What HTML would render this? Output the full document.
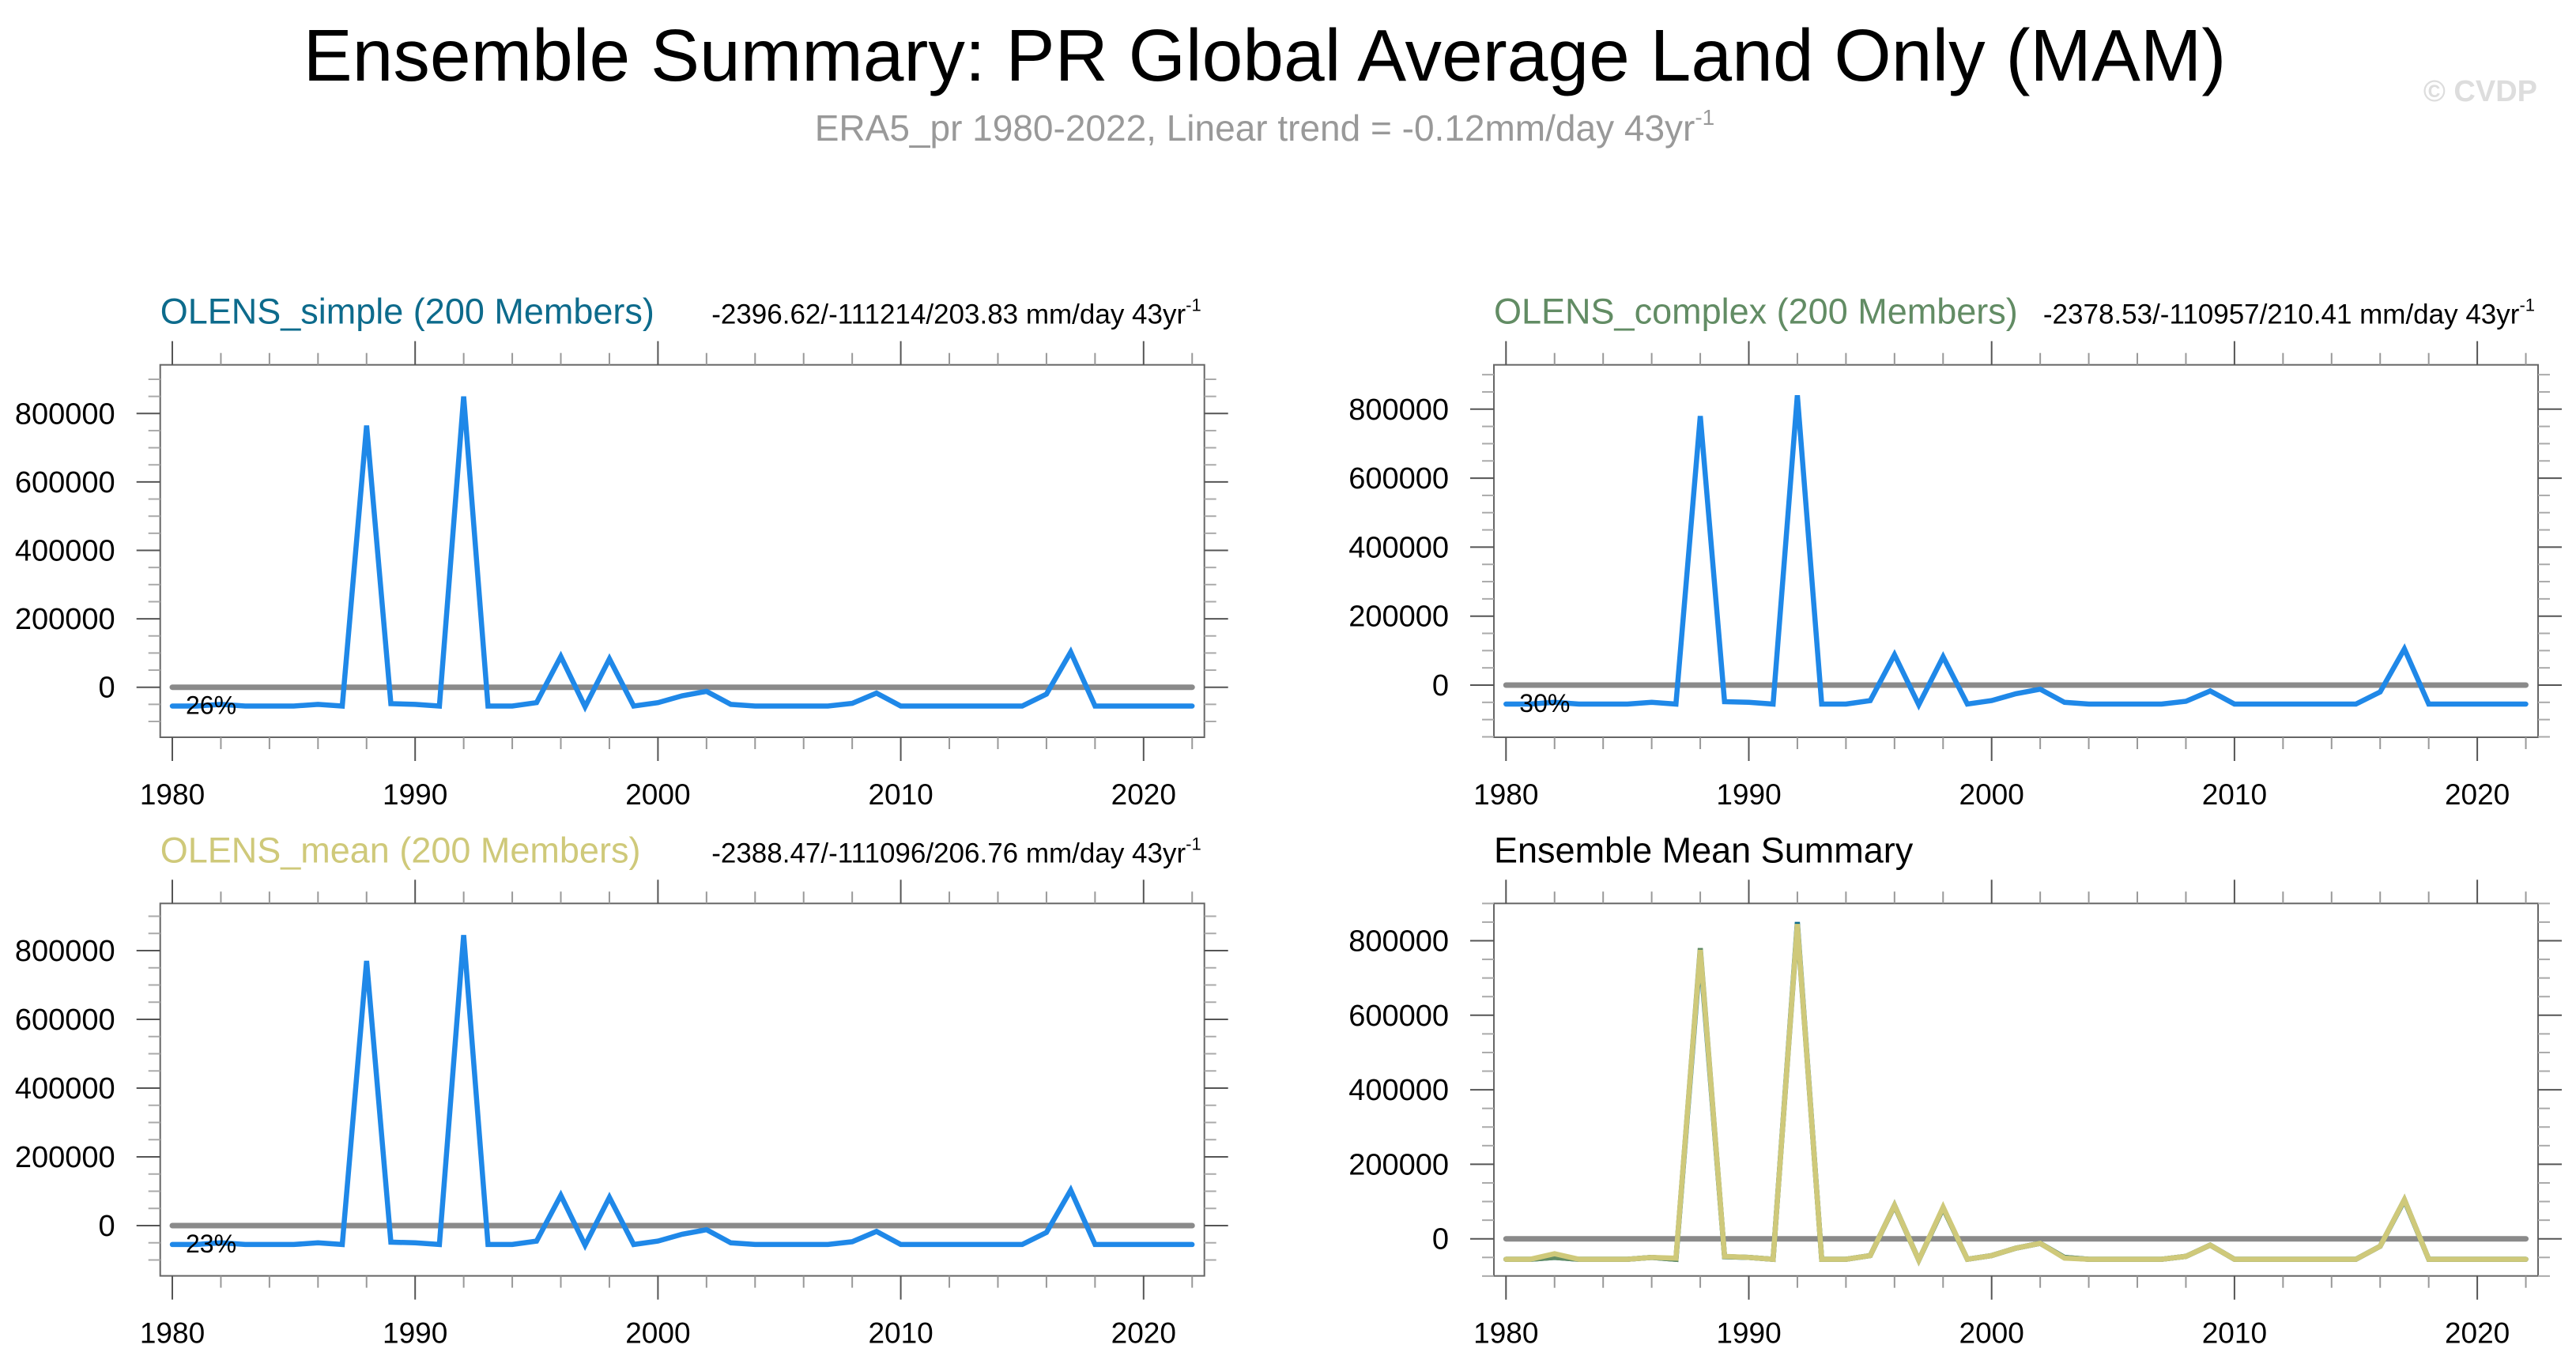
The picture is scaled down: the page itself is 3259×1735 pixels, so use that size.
<!DOCTYPE html>
<html><head><meta charset="utf-8"><title>Ensemble Summary</title>
<style>
html,body{margin:0;padding:0;background:#fff;}
svg{display:block;font-family:"Liberation Sans",Arial,sans-serif;}
</style></head>
<body>
<svg id="chart" width="3259" height="1735" viewBox="0 0 3259 1735" xmlns="http://www.w3.org/2000/svg">
<text x="1600" y="102" font-size="93" text-anchor="middle" fill="#000">Ensemble Summary: PR Global Average Land Only (MAM)</text>
<text x="1600" y="178" font-size="46" text-anchor="middle" fill="#999">ERA5_pr 1980-2022, Linear trend = -0.12mm/day 43yr<tspan font-size="28" dy="-20">-1</tspan></text>
<text x="3210" y="128" font-size="38" font-weight="bold" text-anchor="end" fill="#ddd">© CVDP</text>
<g id="plots"></g>
</svg>
<script>
const years = [];
for (let y = 1980; y <= 2022; y++) years.push(y);
const simpleValues = [-55000,-55000,-50000,-55000,-55000,-55000,-50000,-55000,765000,-48000,-50000,-55000,850000,-55000,-55000,-45000,90000,-57000,83000,-55000,-45000,-25000,-12000,-50000,-55000,-55000,-55000,-55000,-47000,-17000,-55000,-55000,-55000,-55000,-55000,-55000,-20000,103000,-55000,-55000,-55000,-55000,-55000];
const complexValues = [-55000,-55000,-50000,-55000,-55000,-55000,-50000,-55000,780000,-48000,-50000,-55000,840000,-55000,-55000,-45000,88000,-57000,82000,-55000,-45000,-25000,-12000,-50000,-55000,-55000,-55000,-55000,-47000,-17000,-55000,-55000,-55000,-55000,-55000,-55000,-20000,105000,-55000,-55000,-55000,-55000,-55000];
const meanValues = [-55000,-55000,-50000,-55000,-55000,-55000,-50000,-55000,770000,-48000,-50000,-55000,845000,-55000,-55000,-45000,88000,-57000,82000,-55000,-45000,-25000,-12000,-50000,-55000,-55000,-55000,-55000,-47000,-17000,-55000,-55000,-55000,-55000,-55000,-55000,-20000,103000,-55000,-55000,-55000,-55000,-55000];
const ensembleMeanValues = [-55000,-55000,-40000,-55000,-55000,-55000,-50000,-52000,775000,-47000,-50000,-55000,845000,-55000,-55000,-45000,90000,-57000,85000,-55000,-45000,-25000,-12000,-52000,-55000,-55000,-55000,-55000,-47000,-17000,-55000,-55000,-55000,-55000,-55000,-55000,-20000,105000,-55000,-55000,-55000,-55000,-55000];
const xTickLabels = [1980,1990,2000,2010,2020];
const yTickLabels = [0,200000,400000,600000,800000];
const percentLabels = ["26%","30%","23%"];

const NS = "http://www.w3.org/2000/svg";
const root = document.getElementById('plots');
function el(tag, attrs, parent){const e=document.createElementNS(NS,tag);for(const k in attrs)e.setAttribute(k,attrs[k]);(parent||root).appendChild(e);return e;}

const panels = [
 {name:'olens-simple',L:202.7,R:1523.7,T:461.7,B:933,zeroY:869.7,per200k:86.6,title:'OLENS_simple (200 Members)',tcolor:'#0d6b8c',trend:'-2396.62/-111214/203.83 mm/day 43yr',series:[{v:simpleValues,c:'#1f88e8'}],pct:percentLabels[0]},
 {name:'olens-complex',L:1890,R:3211,T:461.7,B:933,zeroY:867,per200k:87.3,title:'OLENS_complex (200 Members)',tcolor:'#628c64',trend:'-2378.53/-110957/210.41 mm/day 43yr',series:[{v:complexValues,c:'#1f88e8'}],pct:percentLabels[1]},
 {name:'olens-mean',L:202.7,R:1523.7,T:1143.3,B:1614.6,zeroY:1551,per200k:87,title:'OLENS_mean (200 Members)',tcolor:'#cfc97a',trend:'-2388.47/-111096/206.76 mm/day 43yr',series:[{v:meanValues,c:'#1f88e8'}],pct:percentLabels[2]},
 {name:'ensemble-mean-summary',L:1890,R:3211,T:1143.3,B:1614.7,zeroY:1567.7,per200k:94.3,title:'Ensemble Mean Summary',tcolor:'#000',trend:null,series:[{v:simpleValues,c:'#0d6b8c'},{v:complexValues,c:'#628c64'},{v:ensembleMeanValues,c:'#cfc97a'}],pct:null}
];

panels.forEach(p=>{
  const g = el('g',{});
  
  
  const x0 = p.L+15.3;
  const step = 30.72;
  const xs = yr => x0 + (yr-1980)*step;
  const ys = v => p.zeroY - v/200000*p.per200k;
  const fr = el('rect',{x:p.L,y:p.T,width:p.R-p.L,height:p.B-p.T,fill:'none',stroke:'#666','stroke-width':2},g);
  
  
  years.forEach(yr=>{
    if (yr%2!==0) return;
    const major = yr%10===0;
    const len = major?30:15, col = major?'#555':'#999';
    const x = xs(yr);
    el('line',{x1:x,x2:x,y1:p.T,y2:p.T-len,stroke:col,'stroke-width':2},g);
    el('line',{x1:x,x2:x,y1:p.B,y2:p.B+len,stroke:col,'stroke-width':2},g);
  });
  xTickLabels.forEach(yr=>{
    const t = el('text',{x:xs(yr),y:p.B+85,'font-size':37,'text-anchor':'middle',fill:'#000'},g);
    t.textContent = yr;
    
    
  });
  for (let v=-200000; v<=1000000; v+=50000){
    const y = ys(v);
    if (y < p.T-0.5 || y > p.B+0.5) continue;
    const major = v%200000===0;
    const len = major?30:15, col = major?'#555':'#aaa';
    el('line',{x1:p.L,x2:p.L-len,y1:y,y2:y,stroke:col,'stroke-width':2},g);
    el('line',{x1:p.R,x2:p.R+len,y1:y,y2:y,stroke:col,'stroke-width':2},g);
  }
  yTickLabels.forEach(v=>{
    const t = el('text',{x:p.L-57,y:ys(v)+13,'font-size':38,'text-anchor':'end',fill:'#000'},g);
    t.textContent = v;
    
    
  });
  const zl = el('line',{x1:xs(1980),x2:xs(2022),y1:ys(0),y2:ys(0),stroke:'#8a8a8a','stroke-width':7,'stroke-linecap':'round'},g);
  
  
  p.series.forEach((s,i)=>{
    const pts = s.v.map((v,k)=>xs(years[k]).toFixed(1)+','+ys(v).toFixed(1)).join(' ');
    const pl = el('polyline',{points:pts,fill:'none',stroke:s.c,'stroke-width':6.5,'stroke-linejoin':'miter','stroke-linecap':'round'},g);
    
    
  });
  const tt = el('text',{x:p.L,y:p.T-52,'font-size':45,fill:p.tcolor},g);
  tt.textContent = p.title;
  
  
  if (p.trend){
    const tr = el('text',{x:p.R-4,y:p.T-52,'font-size':35,'text-anchor':'end',fill:'#000'},g);
    tr.textContent = p.trend;
    const sup = el('tspan',{'font-size':22,dy:-16},tr);
    sup.textContent = '-1';
    
    
  }
  if (p.pct){
    const pc = el('text',{x:x0+17,y:ys(0)+34,'font-size':32,fill:'#000'},g);
    pc.textContent = p.pct;
    
    
  }
});
</script>
</body></html>
